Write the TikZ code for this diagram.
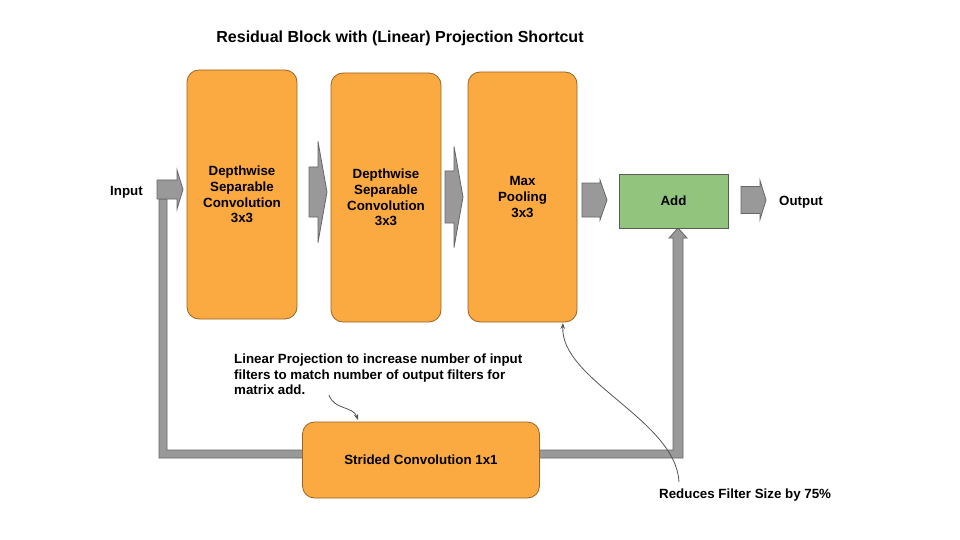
\documentclass[tikz,border=0pt]{standalone}
\usepackage{fontspec}
\setmainfont{Liberation Sans}
\usetikzlibrary{arrows.meta}
\definecolor{boxorange}{HTML}{FBA941}
\definecolor{boxedge}{HTML}{9A6426}
\definecolor{addgreen}{HTML}{93C47D}
\definecolor{addedge}{HTML}{5A5A5A}
\definecolor{arrgray}{HTML}{999999}
\definecolor{arredge}{HTML}{666666}
\definecolor{notegray}{HTML}{555555}
\newcommand\garrow[6]{%
  \filldraw[blockarr] ({#1},{#4-#5}) -- ({#2},{#4-#5}) -- ({#2},{#4-#6}) -- ({#3},{#4}) -- ({#2},{#4+#6}) -- ({#2},{#4+#5}) -- ({#1},{#4+#5}) -- cycle;}
\tikzset{
  blockarr/.style={fill=arrgray, draw=arredge, line width=0.8pt, line join=miter},
  orangebox/.style={rectangle, rounded corners=12pt, fill=boxorange, draw=boxedge, line width=0.8pt,
     align=center, font=\fontsize{13.33}{15.8}\selectfont\bfseries, inner sep=0pt},
  greenbox/.style={rectangle, fill=addgreen, draw=addedge, line width=0.8pt,
     align=center, font=\fontsize{13.33}{15.8}\selectfont\bfseries, inner sep=0pt},
  lbl/.style={font=\fontsize{13.33}{15.8}\selectfont\bfseries, inner sep=0pt},
  titlestyle/.style={font=\fontsize{16}{19}\selectfont\bfseries, inner sep=0pt},
  notearrow/.style={draw=notegray, line width=0.8pt, -{Stealth[length=6pt,width=4.5pt]}},
}
\begin{document}
\begin{tikzpicture}[x=1pt,y=-1pt]
\useasboundingbox (0,0) rectangle (960,540);
\node[titlestyle] (title) at (400,38) {Residual Block with (Linear) Projection Shortcut};
% shortcut bar
\filldraw[blockarr] (159,199) -- (159,458) -- (683,458) -- (683,238) -- (687,238) -- (678,228) -- (669,238) -- (673,238) -- (673,450) -- (167,450) -- (167,199) -- cycle;
% boxes
\node[orangebox, minimum width=110pt, minimum height=249pt] (b1) at (242,194.5) {Depthwise\\Separable\\Convolution\\3x3};
\node[orangebox, minimum width=110pt, minimum height=249pt] (b2) at (386,197.5) {Depthwise\\Separable\\Convolution\\3x3};
\node[orangebox, minimum width=109pt, minimum height=250pt] (b3) at (522.5,197) {Max\\Pooling\\3x3};
\node[greenbox, minimum width=109pt, minimum height=54pt] (add) at (673.5,201) {Add};
\node[orangebox, minimum width=237pt, minimum height=76pt] (b4) at (421,460) {Strided Convolution 1x1};
% labels
\node[lbl, anchor=east] (in) at (143,192) {Input};
\node[lbl, anchor=west] (out) at (779,202) {Output};
\node[lbl, anchor=north west, align=left] (note) at (234,353.5) {Linear Projection to increase number of input\\filters to match number of output filters for\\matrix add.};
\node[lbl, anchor=west] (red) at (659,495) {Reduces Filter Size by 75\%};
% block arrows
\garrow{157}{177}{183}{189.5}{9.5}{19.5}
\garrow{309}{318}{327}{192}{25}{50.5}
\garrow{445}{454}{463}{197}{26}{50.5}
\garrow{582}{600}{607}{200}{17}{20}
\garrow{741}{760}{766}{200}{13.5}{19.5}
% note arrows
\coordinate (n1) at (329,395);
\coordinate (n2) at (679,482);
\draw[notearrow] (n1) .. controls (334,410) and (353,406) .. (358,420);
\draw[notearrow] (n2) .. controls (676,420) and (560,380) .. (563,323);
\end{tikzpicture}
\end{document}
